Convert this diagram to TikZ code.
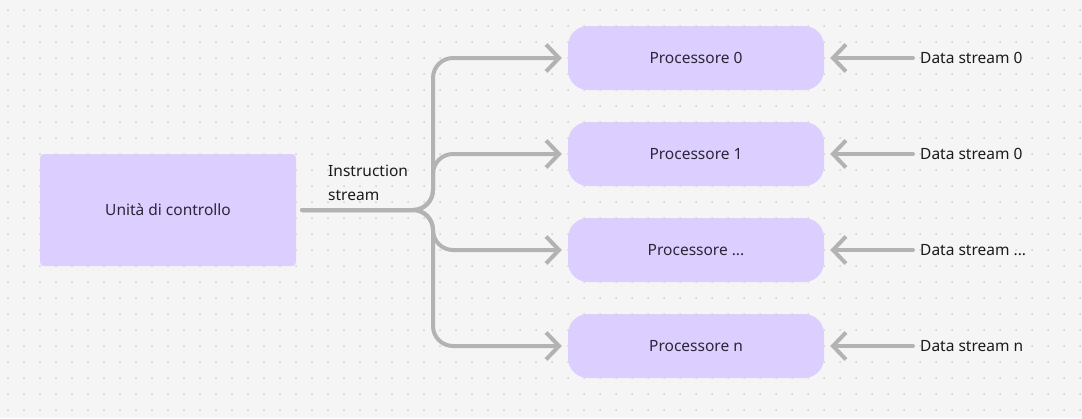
\documentclass[tikz,border=0pt]{standalone}
\usepackage{fontspec}
\setmainfont{Noto Sans}
\usetikzlibrary{arrows.meta}
\definecolor{bg}{HTML}{F5F5F5}
\definecolor{dotc}{HTML}{CFCFCF}
\definecolor{boxfill}{RGB}{220,206,255}
\definecolor{arrowc}{HTML}{B3B3B3}
\definecolor{txtin}{HTML}{2A2638}
\definecolor{txtout}{HTML}{1A1A1A}
\begin{document}
\begin{tikzpicture}[x=1pt,y=-1pt,
  procbox/.style={fill=boxfill, minimum width=256pt, minimum height=64pt, rounded corners=20pt, inner sep=0pt, text=txtin, font=\fontsize{15.5}{24}\selectfont},
  ctrlbox/.style={fill=boxfill, minimum width=256pt, minimum height=112pt, rounded corners=4pt, inner sep=0pt, text=txtin, font=\fontsize{15.5}{24}\selectfont},
  lbl/.style={text=txtout, inner sep=0pt, font=\fontsize{15.5}{24}\selectfont},
  flow/.style={draw=arrowc, line width=4pt, line cap=round, line join=round, -{Straight Barb[length=13pt,width=27pt]}}]
\fill[bg] (0,0) rectangle (1082,418);
\useasboundingbox (0,0) rectangle (1082,418);
\foreach \i in {0,...,67} {\foreach \j in {0,...,25} {\fill[dotc] (8+16*\i,10+16*\j) circle[radius=1pt];}}
\node[ctrlbox] (cu) at (168,210) {Unità di controllo};
\node[procbox] (p0) at (696,58) {Processore 0};
\node[procbox] (p1) at (696,154) {Processore 1};
\node[procbox] (p2) at (696,250) {Processore ...};
\node[procbox] (p3) at (696,346) {Processore n};
\node[lbl, anchor=west] (d0) at (920,58) {Data stream 0};
\node[lbl, anchor=west] (d1) at (920,154) {Data stream 0};
\node[lbl, anchor=west] (d2) at (920,250) {Data stream ...};
\node[lbl, anchor=west] (d3) at (920,346) {Data stream n};
\node[lbl, anchor=west, align=left] (is) at (328,183) {Instruction\\stream};
\coordinate (j) at (433,210);
\foreach \p in {p0,p1,p2,p3} {
  \draw[flow, rounded corners=20pt, shorten <=6pt, shorten >=6pt] (cu.east) -- (j) |- (\p.west);
}
\foreach \d/\p in {d0/p0,d1/p1,d2/p2,d3/p3} {
  \draw[flow, shorten <=7pt, shorten >=6pt] (\d.west) -- (\p.east);
}
\end{tikzpicture}
\end{document}
